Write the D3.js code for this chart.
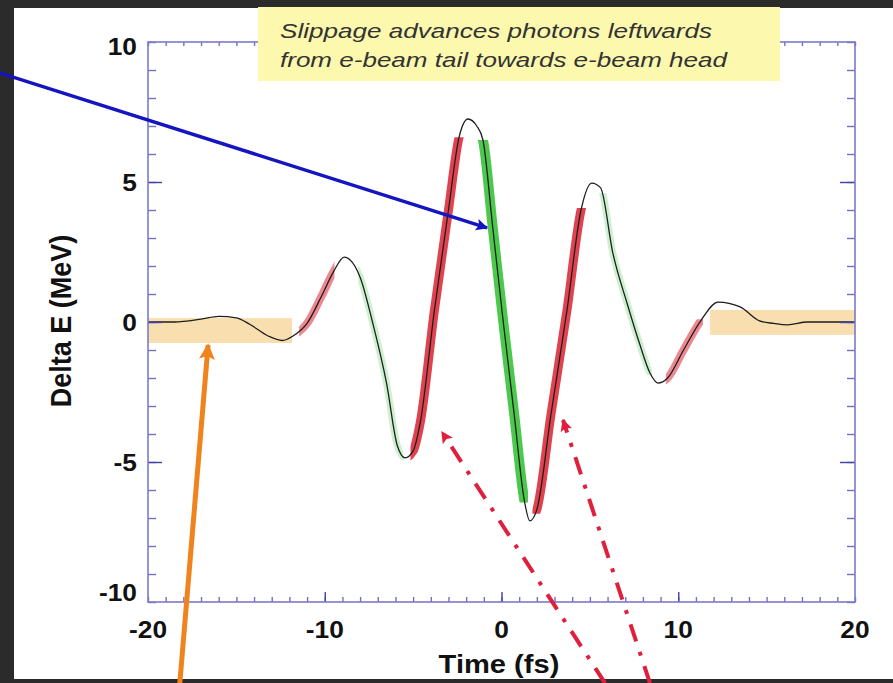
<!DOCTYPE html>
<html>
<head>
<meta charset="utf-8">
<title></title>
<script src="https://d3js.org/d3.v7.min.js"></script>
<style>
  body {margin:0; background:#2b2b2b; overflow:hidden;}
  text {font-family: "Liberation Sans", Arial, Helvetica, sans-serif;}
</style>
</head>
<body>
<div id="my_dataviz"></div>
<script>
// energy modulation
var timeFs = [-20, -18.5, -17, -16, -15, -14.2, -13.2, -12.4, -11.8, -11, -10.2, -9.5, -8.9, -8.3, -8.0,
              -7.3, -6.5, -5.9, -5.46, -5.0, -4.6, -3.8, -3.0, -2.4, -1.9, -1.4, -1.05, -0.5, 0.1, 0.7,
              1.3, 1.6, 2.0, 2.8, 3.7, 4.5, 5.1, 5.6, 6.3, 7.1, 7.8, 8.4, 8.85, 9.4, 10.3, 11.3, 12.25,
              13.5, 14.6, 15.4, 16.2, 17.3, 18.5, 20];
var deltaE = [0, 0, 0.1, 0.2, 0.15, -0.1, -0.5, -0.66, -0.5, -0.05, 0.9, 1.8, 2.32, 2.0, 1.6,
              0.0, -2.2, -4.4, -4.85, -4.6, -3.6, 0.4, 4.0, 6.6, 7.25, 7.0, 6.5, 3.4, 0.0, -3.2,
              -6.4, -7.1, -6.7, -3.3, 0.4, 4.0, 4.96, 4.8, 2.46, 0.68, -0.75, -1.82, -2.18, -2.0, -1.0, 0.07, 0.71,
              0.54, 0.04, -0.05, -0.1, 0.0, 0.0, 0.0];

// highlighted stretches of the curve (time range, energy range, kind)
var hlStart = [-11.45, -8.1, -5.15, -1.75, 1.75, 5.5, 9.3];
var hlEnd   = [-9.45, -5.55, -1.9, 1.5, 5.1, 8.5, 11.4];
var hlLow   = [-2, -5, -4.95, -6.45, -6.85, -1.9, -2.3];
var hlHigh  = [3, 2, 6.6, 6.5, 4.07, 4.6, 0.1];
var hlKind  = ["paleRed", "paleGreen", "red", "green", "red", "paleGreen", "paleRed"];

// flat shaded regions at both ends
var bandStart = [-20, 11.8];
var bandEnd   = [-11.85, 20];
var bandLow   = [-0.75, -0.46];
var bandHigh  = [0.14, 0.43];

var xTicks = [-20, -10, 0, 10, 20];
var yTicks = [-10, -5, 0, 5, 10];
var xLabel = "Time (fs)";
var yLabel = "Delta E (MeV)";
var noteLines = ["Slippage advances photons leftwards", "from e-beam tail towards e-beam head"];

var kindStyle = {
  red:       {color: "#e0424f", w: 9},
  green:     {color: "#4cc94c", w: 10},
  paleRed:   {color: "#ec8890", w: 8},
  paleGreen: {color: "#cdf0cf", w: 7}
};

var W = 893, H = 683;
var svg = d3.select("#my_dataviz").append("svg")
    .attr("width", W).attr("height", H);

svg.append("rect").attr("x", 14).attr("y", 8).attr("width", W - 14).attr("height", 671)
    .attr("fill", "#ffffff");

var x = d3.scaleLinear().domain([-20, 20]).range([148, 855]);
var y = d3.scaleLinear().domain([-10, 10]).range([602, 42]);

var pts = timeFs.map(function(t, i) { return [t, deltaE[i]]; });
var line = d3.line()
    .x(function(d) { return x(d[0]); })
    .y(function(d) { return y(d[1]); })
    .curve(d3.curveMonotoneX);

// tan bands
svg.append("g").selectAll("rect")
  .data(bandStart)
  .enter().append("rect")
    .attr("x", function(d) { return x(d); })
    .attr("y", function(d, i) { return y(bandHigh[i]); })
    .attr("width", function(d, i) { return x(bandEnd[i]) - x(d); })
    .attr("height", function(d, i) { return y(bandLow[i]) - y(bandHigh[i]); })
    .attr("fill", "#f9dfb0");

// highlight bands: same curve, thick, clipped to a box
var defs = svg.append("defs");
hlStart.forEach(function(t0, i) {
  defs.append("clipPath").attr("id", "hl" + i)
    .append("rect")
      .attr("x", x(t0)).attr("y", y(hlHigh[i]))
      .attr("width", x(hlEnd[i]) - x(t0))
      .attr("height", y(hlLow[i]) - y(hlHigh[i]));
  var st = kindStyle[hlKind[i]];
  svg.append("path")
    .datum(pts)
    .attr("d", line)
    .attr("fill", "none")
    .attr("stroke", st.color)
    .attr("stroke-width", st.w)
    .attr("clip-path", "url(#hl" + i + ")");
});

// the curve
svg.append("path")
  .datum(pts)
  .attr("d", line)
  .attr("fill", "none")
  .attr("stroke", "#1e1e1e")
  .attr("stroke-width", 1.3);

// frame + ticks
function ticks(axis, tx, ty, vals, size, col) {
  var g = svg.append("g").attr("transform", "translate(" + tx + "," + ty + ")")
    .call(axis.tickValues(vals).tickSize(size).tickFormat(""));
  g.select(".domain").remove();
  g.selectAll("line").attr("stroke", col).attr("stroke-width", 1.4);
}
var minorX = d3.range(-20, 21, 1), minorY = d3.range(-10, 11, 1);
ticks(d3.axisBottom(x), 0, 602, minorX, -5, "#7070c4");
ticks(d3.axisBottom(x), 0, 602, [-10, 0, 10], -10, "#4040a8");
ticks(d3.axisTop(x), 0, 42, minorX, -4, "#7070c4");
ticks(d3.axisTop(x), 0, 42, [-10, 0, 10], -8, "#4040a8");
ticks(d3.axisLeft(y), 148, 0, minorY, -8, "#7070c4");
ticks(d3.axisLeft(y), 148, 0, [-5, 0, 5], -14, "#4040a8");
ticks(d3.axisRight(y), 855, 0, minorY, -8, "#7070c4");
ticks(d3.axisRight(y), 855, 0, [-5, 0, 5], -15, "#4040a8");

svg.append("rect")
  .attr("x", x(-20)).attr("y", y(10))
  .attr("width", x(20) - x(-20)).attr("height", y(-10) - y(10))
  .attr("fill", "none").attr("stroke", "#7a7acc").attr("stroke-width", 1.6);

// tick labels
svg.append("g").selectAll("text")
  .data(xTicks).enter().append("text")
    .attr("transform", function(d) { return "translate(" + x(d) + ",638) scale(1.12,1)"; })
    .attr("text-anchor", "middle")
    .style("font-size", "23.5px").style("font-weight", "bold").attr("fill", "#111")
    .text(function(d) { return d; });
svg.append("g").selectAll("text")
  .data(yTicks).enter().append("text")
    .attr("transform", function(d) {
      var shift = d === 10 ? 4 : (d === -10 ? -10 : 0);
      return "translate(137," + (y(d) + 8.5 + shift) + ") scale(1.12,1)"; })
    .attr("text-anchor", "end")
    .style("font-size", "23.5px").style("font-weight", "bold").attr("fill", "#111")
    .text(function(d) { return d; });

svg.append("text")
  .attr("transform", "translate(499,673) scale(1.12,1)")
  .attr("text-anchor", "middle")
  .style("font-size", "26px").style("font-weight", "bold").attr("fill", "#111")
  .text(xLabel);
svg.append("text")
  .attr("transform", "translate(71,321) scale(1.12,1) rotate(-90)")
  .attr("text-anchor", "middle")
  .style("font-size", "27px").style("font-weight", "bold").attr("fill", "#111")
  .text(yLabel);

// arrows
function marker(id, col, w, h) {
  defs.append("marker").attr("id", id)
    .attr("markerUnits", "userSpaceOnUse")
    .attr("viewBox", "0 0 10 10").attr("refX", 9).attr("refY", 5)
    .attr("markerWidth", w).attr("markerHeight", h)
    .attr("orient", "auto")
    .append("path").attr("d", "M0,0 L10,5 L0,10 L2,5 z").attr("fill", col);
}
marker("mBlue", "#1414c0", 18, 12);
marker("mOrange", "#f0831e", 22, 16);
marker("mRed", "#e01f3c", 16, 12);

function arrow(t0, e0, t1, e1, col, w, mk, dash) {
  svg.append("line")
    .attr("x1", x(t0)).attr("y1", y(e0))
    .attr("x2", x(t1)).attr("y2", y(e1))
    .attr("stroke", col).attr("stroke-width", w)
    .attr("stroke-dasharray", dash || null)
    .attr("marker-end", "url(#" + mk + ")");
}
arrow(-28.4, 8.9, -0.82, 3.36, "#1414c0", 3.5, "mBlue");
arrow(-18.2, -12.9, -16.6, -0.82, "#f0831e", 5, "mOrange");
arrow(5.86, -12.9, -3.37, -3.93, "#e01f3c", 4, "mRed", "18,11,4,11");
arrow(8.4, -12.9, 3.48, -3.5, "#e01f3c", 4, "mRed", "18,11,4,11");

// note box
svg.append("rect").attr("x", 258).attr("y", 7).attr("width", 522).attr("height", 74)
  .attr("fill", "#fcf9ae");
svg.append("g").selectAll("text")
  .data(noteLines).enter().append("text")
    .attr("x", 280)
    .attr("y", function(d, i) { return 38 + i * 29; })
    .attr("textLength", function(d, i) { return i === 0 ? 432 : 447; })
    .attr("lengthAdjust", "spacingAndGlyphs")
    .style("font-size", "21px").style("font-style", "italic").attr("fill", "#333")
    .text(function(d) { return d; });
</script>
</body>
</html>
